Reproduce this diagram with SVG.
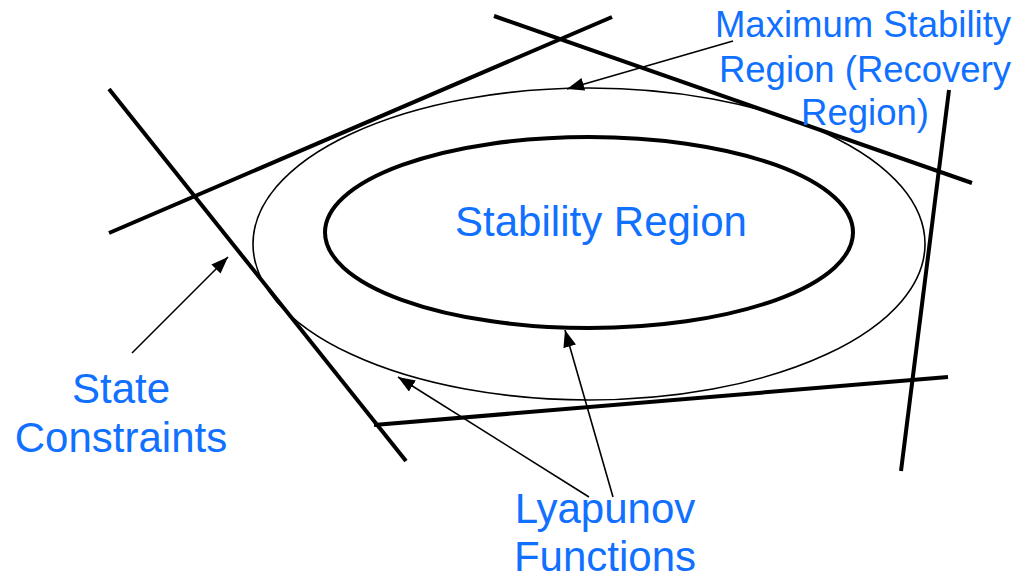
<svg xmlns="http://www.w3.org/2000/svg" width="1017" height="578" viewBox="0 0 1017 578">
<style>
.lbl{font-family:"Liberation Sans",Arial,sans-serif;fill:#1070ff;text-anchor:middle}
.big{font-size:42px}
.sm{font-size:36.5px}
.cons{stroke:#000;stroke-width:4;stroke-linecap:butt;fill:none}
.arr{stroke:#000;stroke-width:1.6;fill:none;marker-end:url(#ah)}
</style>
<defs>
<marker id="ah" markerUnits="userSpaceOnUse" markerWidth="18" markerHeight="14" refX="17" refY="6.5" orient="auto">
<path d="M0,0 L17,6.5 L0,13 z" fill="#000"/>
</marker>
</defs>
<rect width="1017" height="578" fill="#fff"/>
<g id="outer-region">
<ellipse cx="589" cy="244" rx="336" ry="156" fill="none" stroke="#000" stroke-width="1.6"/>
</g>
<g id="stability-region">
<ellipse cx="589" cy="232.5" rx="264" ry="95.5" fill="none" stroke="#000" stroke-width="4"/>
<text class="lbl big" x="601" y="236">Stability Region</text>
</g>
<g id="state-constraints">
<line class="cons" x1="109" y1="233" x2="612" y2="17"/>
<line class="cons" x1="494" y1="16" x2="972" y2="183"/>
<line class="cons" x1="109" y1="89" x2="406" y2="461"/>
<line class="cons" x1="949" y1="90" x2="901" y2="471"/>
<line class="cons" x1="374" y1="425" x2="948" y2="377"/>
</g>
<g id="label-max">
<text class="lbl sm" x="863" y="37">Maximum Stability</text>
<text class="lbl sm" x="865" y="82">Region (Recovery</text>
<text class="lbl sm" x="865" y="125">Region)</text>
</g>
<g id="label-state">
<text class="lbl big" x="121" y="403">State</text>
<text class="lbl big" x="121" y="452">Constraints</text>
</g>
<g id="label-lyap">
<text class="lbl big" x="605" y="523">Lyapunov</text>
<text class="lbl big" x="605" y="571">Functions</text>
</g>
<g id="connectors">
<line class="arr" x1="733" y1="41" x2="567" y2="89"/>
<line class="arr" x1="132" y1="353" x2="228" y2="257"/>
<line class="arr" x1="589" y1="497" x2="398" y2="377"/>
<line class="arr" x1="613" y1="497" x2="565" y2="330"/>
</g>
</svg>
